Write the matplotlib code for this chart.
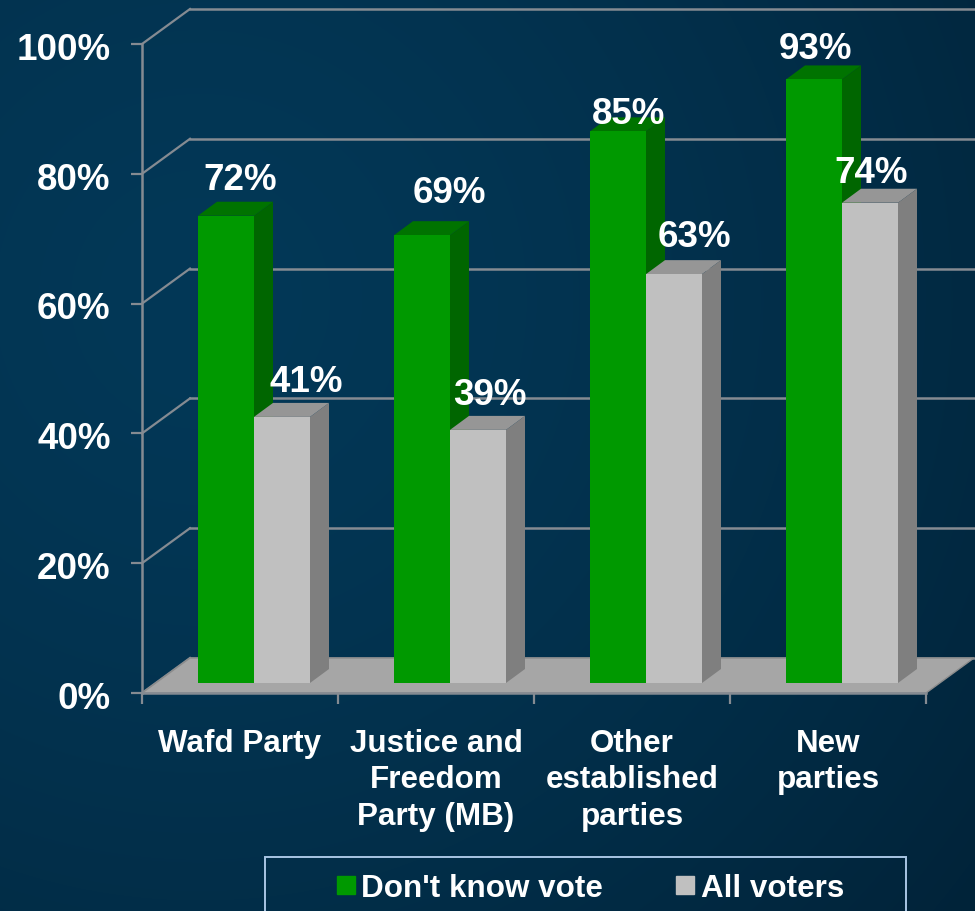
import matplotlib
matplotlib.use('Agg')
import matplotlib.pyplot as plt
from matplotlib.patches import Polygon, Rectangle
from matplotlib.lines import Line2D
from matplotlib.transforms import ScaledTranslation
import numpy as np

plt.rcParams['font.family'] = ['Liberation Sans', 'DejaVu Sans']
plt.rcParams['font.weight'] = 'bold'

# data
categories = ['Wafd Party', 'Justice and\nFreedom\nParty (MB)', 'Other\nestablished\nparties', 'New\nparties']
dont_know = [72, 69, 85, 93]
all_voters = [41, 39, 63, 74]
y_ticks = [0, 20, 40, 60, 80, 100]
series_names = ["Don't know vote", 'All voters']

# label nudges in pixels, the original has them hand placed
green_nudge = [(14, 36), (27, 43), (11, 18), (1, 31)]
gray_nudge = [(24, 35), (12, 35), (20, 38), (1, 30)]

W, H = 975, 912
PX_X = 196.0      # pixels per category
PX_Y = 6.49       # pixels per percent
GREEN = ('#009900', '#006600', '#007300')
GRAY = ('#c0c0c0', '#7f7f7f', '#969696')
GRID = '#858b92'

fig = plt.figure(figsize=(W / 100, H / 100), dpi=100)

# background gradient
bg = fig.add_axes([0, 0, 1, 1], zorder=0)
yy, xx = np.mgrid[0:H, 0:W]
dist = np.sqrt((xx - 200) ** 2 + (yy - 300) ** 2) / 1250.0
dist = (np.clip(dist, 0, 1) ** 1.5)[..., None]
inner = np.array([3, 56, 87]) / 255.0
outer = np.array([0, 26, 44]) / 255.0
bg.imshow(inner + (outer - inner) * dist, aspect='auto')
bg.axis('off')

ax = fig.add_axes([142 / W, (H - 694) / H, 784 / W, 649 / H], zorder=1)
ax.patch.set_alpha(0)
ax.set_xlim(0, 4)
ax.set_ylim(0, 100)


def dx(px):
    return px / PX_X


def dy(px):
    return px / PX_Y


# back wall and side wall
wall_x, wall_y = dx(48), dy(35)
for v in y_ticks:
    ax.plot([0, wall_x], [v, v + wall_y], color=GRID, lw=1.6, clip_on=False, zorder=1)
    ax.plot([wall_x, 4 + wall_x + dx(1)], [v + wall_y, v + wall_y], color=GRID, lw=1.8, clip_on=False, zorder=1)

# floor
ax.add_patch(Polygon([(0, 0), (4, 0), (4 + wall_x, wall_y), (wall_x, wall_y)],
                     facecolor='#a6a6a6', edgecolor='#8c8c8c', lw=1, clip_on=False, zorder=2))

# bars
bar_w = dx(56)
base = dy(10)
dep_x, dep_y = dx(19), dy(14)


def bar3d(left, value, cols, z):
    top = base + value
    ax.bar(left, value, bar_w, bottom=base, align='edge', color=cols[0], zorder=z + 0.2)
    ax.add_patch(Polygon([(left + bar_w, base), (left + bar_w + dep_x, base + dep_y),
                          (left + bar_w + dep_x, top + dep_y), (left + bar_w, top)],
                         facecolor=cols[1], edgecolor='none', clip_on=False, zorder=z))
    ax.add_patch(Polygon([(left, top), (left + dep_x, top + dep_y),
                          (left + bar_w + dep_x, top + dep_y), (left + bar_w, top)],
                         facecolor=cols[2], edgecolor='none', clip_on=False, zorder=z))


for i in range(len(categories)):
    left = i + dx(56)
    bar3d(left, dont_know[i], GREEN, 3 + i)
    bar3d(left + bar_w, all_voters[i], GRAY, 3.5 + i)

# value labels
for i in range(len(categories)):
    left = i + dx(56)
    ax.text(left + bar_w / 2 + dx(green_nudge[i][0]), base + dont_know[i] + dy(green_nudge[i][1]),
            '%d%%' % dont_know[i], color='white', fontsize=26.5, ha='center', va='center', zorder=20)
    ax.text(left + bar_w * 1.5 + dx(gray_nudge[i][0]), base + all_voters[i] + dy(gray_nudge[i][1]),
            '%d%%' % all_voters[i], color='white', fontsize=26.5, ha='center', va='center', zorder=20)

# axes
for s in ['top', 'right']:
    ax.spines[s].set_visible(False)
for s in ['left', 'bottom']:
    ax.spines[s].set_color(GRID)
    ax.spines[s].set_linewidth(1.8)
    ax.spines[s].set_zorder(2.5)
ax.set_yticks(y_ticks)
ax.set_yticklabels(['%d%%' % v for v in y_ticks], color='white', fontsize=26.5, fontweight='bold')
ax.tick_params(axis='y', length=8, width=1.6, color=GRID, pad=14.5)
for lab in ax.get_yticklabels():
    lab.set_transform(lab.get_transform() + ScaledTranslation(0, -1 / 72, fig.dpi_scale_trans))
ax.set_xticks(range(5))
ax.set_xticklabels([])
ax.tick_params(axis='x', which='major', length=8, width=1.6, color=GRID)
ax.set_xticks(np.arange(len(categories)) + 0.5, minor=True)
ax.set_xticklabels(categories, minor=True, color='white', fontsize=22.6, fontweight='bold', linespacing=1.28)
ax.tick_params(axis='x', which='minor', length=0, pad=25)

# legend, frame runs off the bottom of the picture
fig.add_artist(Rectangle((265 / W, -0.02), 641 / W, 0.02 + (H - 858) / H, transform=fig.transFigure,
                         facecolor='none', edgecolor='#a9c6e4', lw=1.4))
handles = [Line2D([], [], marker='s', ls='', ms=13.5, color=GREEN[0]),
           Line2D([], [], marker='s', ls='', ms=13, color=GRAY[0])]
fig.legend(handles, series_names, loc='center', bbox_to_anchor=(590 / W, (H - 889) / H), ncol=2, frameon=False,
           fontsize=22.6, labelcolor='white', handlelength=0.6, handletextpad=0.2, columnspacing=2.3, borderpad=0)

fig.savefig('out.png', dpi=100)
